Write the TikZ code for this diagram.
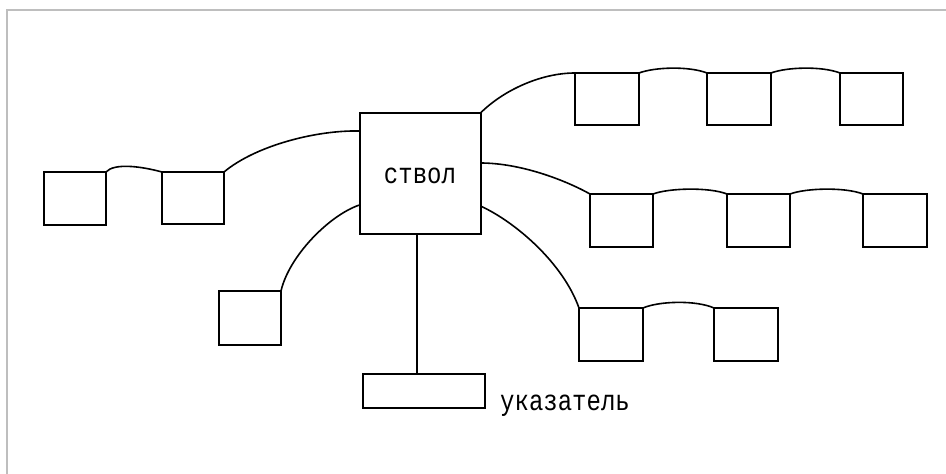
\documentclass[tikz,border=0pt]{standalone}
\usepackage{fontspec}
\setmonofont{Liberation Mono}
\definecolor{framegray}{HTML}{BEBEBE}
\begin{document}
\begin{tikzpicture}[x=1pt,y=-1pt,
  box/.style={draw, line width=2pt, minimum width=62pt, minimum height=53pt, inner sep=0pt, outer sep=0pt},
  link/.style={line width=1.6pt},
  lbl/.style={font=\ttfamily\fontsize{24}{24}\selectfont, inner sep=0pt}]
\useasboundingbox (0,0) rectangle (946,474);
\fill[white] (0,0) rectangle (946,474);
\draw[framegray, line width=1.6pt] (7,474) -- (7,10) -- (946,10);
% trunk
\node[box, minimum width=121pt, minimum height=121pt] (T) at (420,173.5) {};
\node[lbl] (Tl) at (420,176) {\scalebox{1}[1.2]{ствол}};
% pointer
\node[box, minimum width=122pt, minimum height=34pt] (P) at (424,391) {};
\node[lbl, anchor=west] (Pl) at (500,406) {\scalebox{1}[1.2]{указатель}};
% left chain
\node[box] (A) at (75,198.5) {};
\node[box, minimum height=52pt] (B) at (193,198) {};
\node[box, minimum height=54pt] (C) at (250,318) {};
% right rows
\node[box, minimum width=64pt, minimum height=52pt] (R1) at (607,99) {};
\node[box, minimum width=64pt, minimum height=52pt] (R2) at (739,99) {};
\node[box, minimum width=63pt, minimum height=52pt] (R3) at (871.5,99) {};
\node[box, minimum width=63pt] (M1) at (621.5,220.5) {};
\node[box, minimum width=63pt] (M2) at (758.5,220.5) {};
\node[box, minimum width=64pt] (M3) at (895,220.5) {};
\node[box, minimum width=64pt] (L1) at (611,334.5) {};
\node[box, minimum width=64pt] (L2) at (746,334.5) {};
% connectors from trunk
\draw[link] ([yshift=-18pt]T.north west) .. controls +(-44,-1) and +(31,-26) .. (B.north east);
\draw[link] ([yshift=-92pt]T.north west) .. controls +(-30,10) and +(8,-35) .. (C.north east);
\draw[link] ([xshift=-7pt]P.north) -- ([xshift=-7pt]P.north |- T.south);
\draw[link] (T.north east) .. controls +(22,-22) and +(-35,0) .. (R1.north west);
\draw[link] ([yshift=-50pt]T.north east) .. controls +(40,0) and +(-25,-14) .. (M1.north west);
\draw[link] ([yshift=-93pt]T.north east) .. controls +(35,16) and +(-16,-45) .. (L1.north west);
% chain links
\draw[link] (A.north east) .. controls +(8,-9) and +(-22,-6) .. (B.north west);
\draw[link] (R1.north east) .. controls +(16,-6) and +(-18,-7) .. (R2.north west);
\draw[link] (R2.north east) .. controls +(16,-6) and +(-18,-7) .. (R3.north west);
\draw[link] (M1.north east) .. controls +(16,-6) and +(-18,-7) .. (M2.north west);
\draw[link] (M2.north east) .. controls +(16,-6) and +(-18,-7) .. (M3.north west);
\draw[link] (L1.north east) .. controls +(16,-7) and +(-18,-8) .. (L2.north west);
\end{tikzpicture}
\end{document}
